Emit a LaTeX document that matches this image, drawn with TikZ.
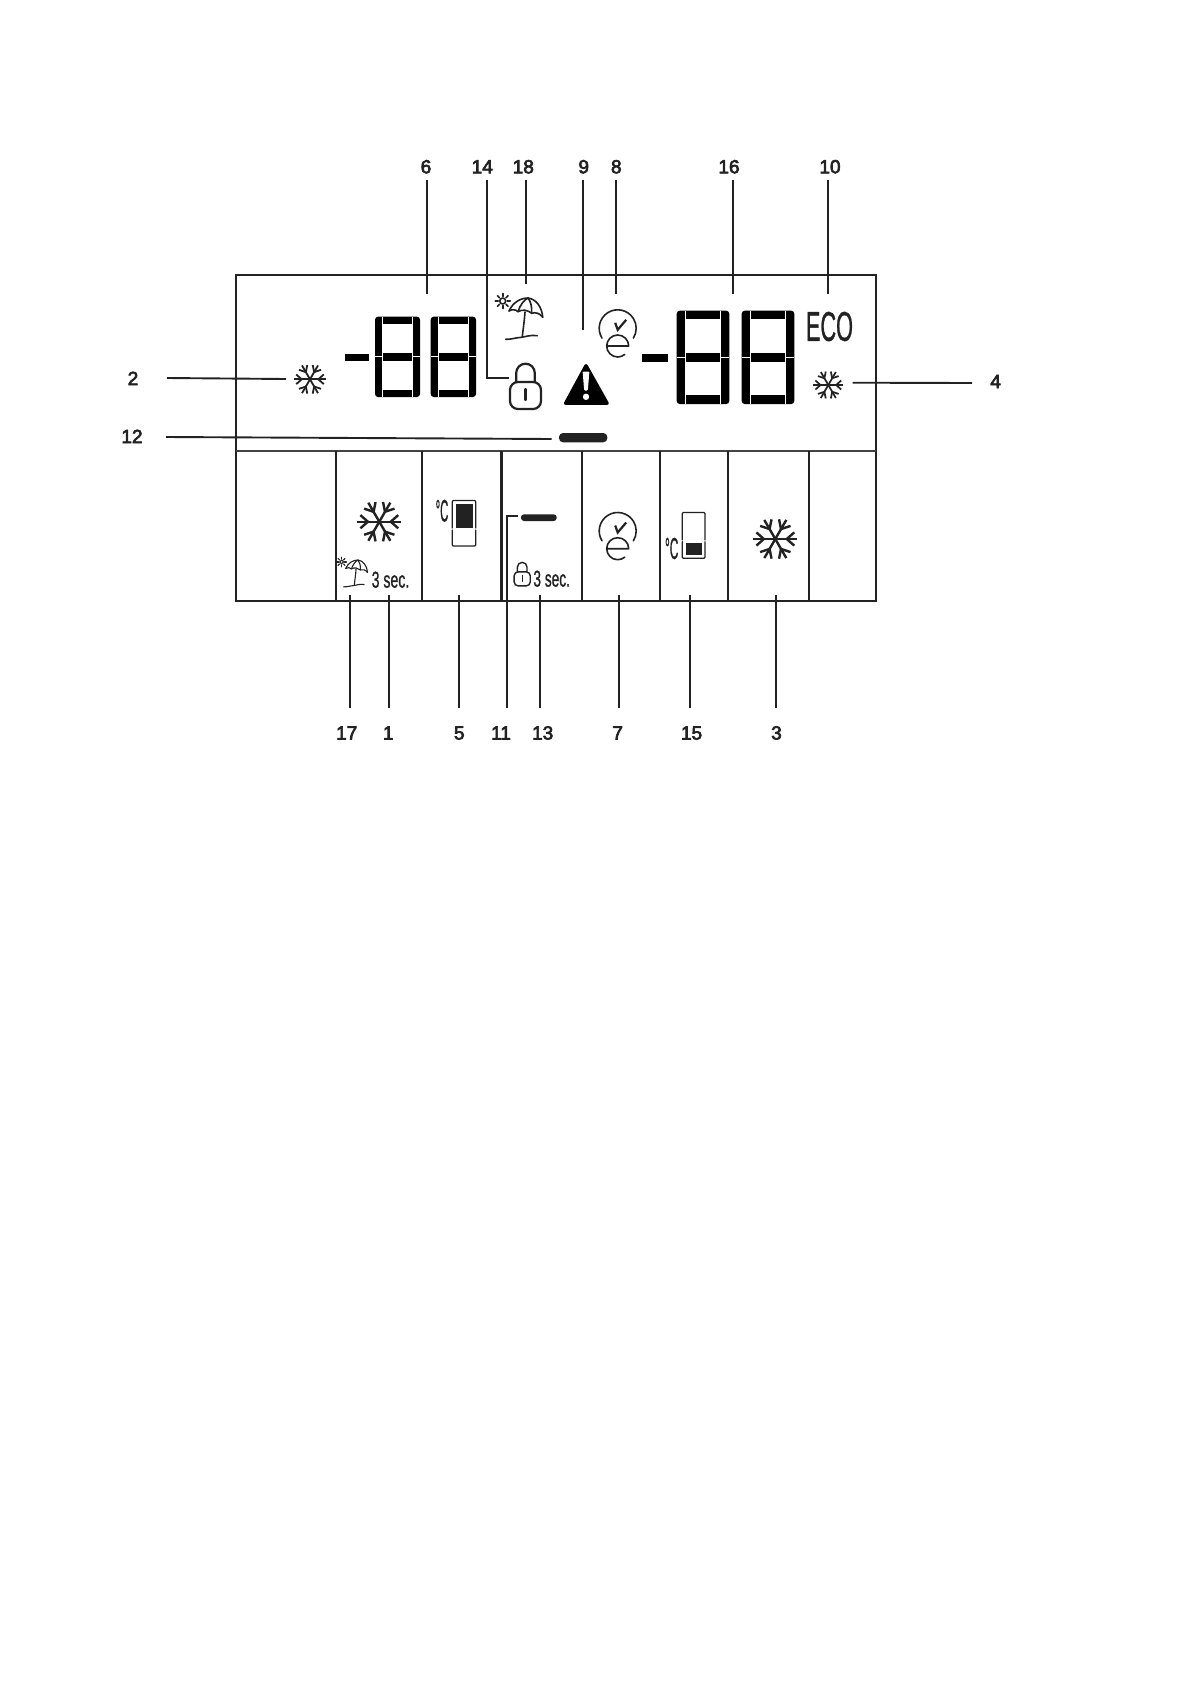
\documentclass[tikz,border=0pt]{standalone}
\usepackage{fontspec}
\usepackage{graphicx}
\setmainfont{Liberation Sans}
\newfontfamily\lblfont[FakeBold=1.2]{Liberation Sans}
\newfontfamily\numfont[FakeBold=3.5]{Liberation Sans}
\definecolor{ink}{HTML}{222222}
\tikzset{
  frame/.style={draw=ink,line width=1.9pt},
  conn/.style={draw=ink,line width=1.9pt},
  icon/.style={draw=ink,line width=1.5pt,line cap=round,line join=round},
  lbl/.style={inner sep=0pt,text=ink,text height=14pt,text depth=0pt,font=\numfont\fontsize{19}{19}\selectfont},
  txt/.style={inner sep=0pt,text=ink,font=\lblfont},
}
% cx cy radius linewidth
\newcommand{\flake}[4]{%
  \begin{scope}[shift={(#1,#2)},scale=#3]
    \foreach \a in {0,60,...,300}{
      \begin{scope}[rotate=\a]
        \draw[draw=ink,line width=#4,line cap=butt] (0,0) -- (1,0);
        \draw[draw=ink,line width=#4,line cap=butt] (.86,-.30) -- (.52,0) -- (.86,.30);
      \end{scope}
    }
  \end{scope}}
% x y w h t
\newcommand{\lcdigit}[5]{%
  \pgfmathsetmacro{\xa}{#1}\pgfmathsetmacro{\ya}{#2}
  \pgfmathsetmacro{\xb}{#1+#3}\pgfmathsetmacro{\yb}{#2+#4}
  \pgfmathsetmacro{\xi}{#1+#5}\pgfmathsetmacro{\xj}{#1+#3-#5}
  \pgfmathsetmacro{\ym}{#2+#4/2}
  \pgfmathsetmacro{\yi}{#2+#5}\pgfmathsetmacro{\yj}{#2+#4-#5}
  \pgfmathsetmacro{\yk}{#2+#4/2-#5/2}\pgfmathsetmacro{\yl}{#2+#4/2+#5/2}
  \fill[black,rounded corners=3pt] (\xa,\ya) rectangle (\xb,\yb);
  \fill[white] (\xi,\yi) rectangle (\xj,\yk);
  \fill[white] (\xi,\yl) rectangle (\xj,\yj);
  \draw[white,line width=1pt] (\xi,\ya) -- (\xi,\yb);
  \draw[white,line width=1pt] (\xj,\ya) -- (\xj,\yb);
  \draw[white,line width=1pt] (\xa,\ym) -- (\xi,\ym);
  \draw[white,line width=1pt] (\xj,\ym) -- (\xb,\ym);}
% x y scale lw
\newcommand{\umbrella}[4]{%
  \begin{scope}[shift={(#1,#2)},scale=#3,icon,line width=#4]
    \draw (-19,13) .. controls (-15,4) and (-7,0) .. (0,0) .. controls (8,1) and (14,9) .. (14.7,19.3);
    \draw (-19,13) .. controls (-16,11) and (-12,11.5) .. (-10,13.7) .. controls (-6,11) and (0,12) .. (3.7,15.3) .. controls (7,14) and (12,15) .. (14.7,19.3);
    \draw (-10,13.7) .. controls (-8,7) and (-4,2) .. (0,0) .. controls (3,4) and (4,9) .. (3.7,15.3);
    \draw (-3,14) .. controls (-3.5,22) and (-5,32) .. (-5.7,38.7);
    \draw (-22.3,41.3) .. controls (-16,41.5) and (-12,39.5) .. (-8,39.5) .. controls (-3,39) and (3,36.5) .. (9.3,37.7);
    \draw (-25.3,3) circle (3);
    \foreach \a in {0,45,...,315}{\draw (-25.3,3) ++(\a:4.5) -- ++(\a:3);}
  \end{scope}}
% x y scale r lw
\newcommand{\padlock}[5]{%
  \begin{scope}[shift={(#1,#2)},scale=#3,icon,line width=#5]
    \draw[rounded corners=#4pt] (-15.5,-8) rectangle (15.5,19);
    \draw (-9.3,-8) -- (-9.3,-17) arc[start angle=180,end angle=360,radius=9.3] -- (9.3,-8);
    \draw (0,-1) -- (0,10);
  \end{scope}}
% x y lw
\newcommand{\echeck}[3]{%
  \begin{scope}[shift={(#1,#2)},icon,line width=#3]
    \draw (0,0) ++(148:18.5) arc[start angle=148,end angle=392,radius=18.5];
    \draw (-11,17.7) -- (11,17.7) arc[start angle=0,end angle=-310,radius=11];
    \draw[line width=2.2pt,line cap=butt,line join=miter] (-2.5,-5.5) -- (0,1.5) -- (8.5,-8.5);
  \end{scope}}
\begin{document}
\begin{tikzpicture}[x=1pt,y=1pt,yscale=-1]
\useasboundingbox (0,0) rectangle (1191,1684);
\fill[white] (0,0) rectangle (1191,1684);

% panel
\draw[frame] (235.7,275) rectangle (875.7,600.7);
\draw[frame,draw=ink!85] (235.7,451) -- (875.7,451);
\foreach \x/\w in {335.7/2,421.7/1.9,501.7/2.8,582.3/2,659.7/2.2,728.3/1.9,809.3/2}{
  \draw[draw=ink,line width=\w pt] (\x,451) -- (\x,600.7);
}

% digits
\fill[black] (345,354) rectangle (368.7,361);
\lcdigit{375}{316.7}{45}{80.3}{7.5}
\lcdigit{430.7}{316.7}{45.3}{80.3}{7.5}
\fill[black] (641.7,353.5) rectangle (668.3,361.5);
\lcdigit{676.7}{310.7}{52.6}{93.3}{8.7}
\lcdigit{741.7}{310.7}{52.6}{93.3}{8.7}

% snowflakes
\flake{310}{379.3}{16}{1.8pt}
\flake{828.3}{385}{15}{1.7pt}
\flake{379.3}{521.7}{22}{2.4pt}
\flake{775.3}{539}{22}{2.4pt}

% icons
\umbrella{528}{298}{1}{1.6pt}
\umbrella{358}{560}{.65}{1.1pt}
\padlock{525.5}{390}{1}{8}{2.2pt}
\padlock{522.2}{576}{.52}{4}{1.4pt}
\echeck{617.7}{328.3}{1.6pt}
\echeck{617.7}{531}{1.6pt}

% warning
\filldraw[draw=black,fill=black,line join=round,line width=3.5pt] (586,365.8) -- (607,403.2) -- (565.7,403.2) -- cycle;
\fill[white,rounded corners=1pt] (582.6,371.5) -- (589.4,371.5) -- (587.8,390.5) -- (584.2,390.5) -- cycle;
\fill[white] (586,396.8) circle (3.2);

% bars
\fill[ink,rounded corners=4pt] (559,433) rectangle (607.3,442.3);
\fill[ink,rounded corners=3pt] (521,514.3) rectangle (556.7,521);

% texts
\node[txt] (eco) at (829.5,326.5) {\resizebox{47pt}{29pt}{ECO}};
\node[txt] (sa) at (390.5,579.7) {\resizebox{37.6pt}{16pt}{3 sec.}};
\node[txt] (sb) at (551.7,578.7) {\resizebox{36.6pt}{16pt}{3 sec.}};
\node[txt] (ca) at (442,510.8) {\resizebox{12.6pt}{21.7pt}{°C}};
\node[txt] (cb) at (671.7,548.5) {\resizebox{13.3pt}{21pt}{°C}};

% fridge icons
\begin{scope}[icon,line width=1.3pt]
  \draw[rounded corners=1pt] (452.3,528) -- (452.3,500.5) -- (475.7,500.5) -- (475.7,528);
  \draw[rounded corners=1pt] (452.3,530) -- (452.3,546) -- (475.7,546) -- (475.7,530);
  \draw[rounded corners=1pt] (682.3,540) -- (682.3,512.5) -- (705,512.5) -- (705,540);
  \draw[rounded corners=1pt] (682.3,541.7) -- (682.3,558.3) -- (705,558.3) -- (705,541.7);
\end{scope}
\fill[ink] (456,503.5) rectangle (472.7,527.5);
\fill[ink] (685.7,542.7) rectangle (702.3,555);

% number labels
\foreach \n/\x in {6/426,14/482.3,18/523.3,9/583.7,8/616.3,16/729,10/830}{
  \node[lbl] (n\n) at (\x,166.3) {\n};
}
\foreach \n/\x in {17/346.7,1/388.3,5/459.3,11/501,13/542.7,7/617.6,15/691.6,3/776.5}{
  \node[lbl] (n\n) at (\x,732.5) {\n};
}
\node[lbl] (n2) at (133,378) {2};
\node[lbl] (n4) at (995.6,381) {4};
\node[lbl] (n12) at (132,436) {12};

% connector end points
\foreach \n/\x/\y in {6/427.3/294,18/526/283.5,9/582.7/330,8/615.7/294,16/732.7/294,10/828.3/294}{
  \coordinate (e\n) at (\x,\y);
  \draw[conn,shorten <=6.7pt] (n\n.south -| e\n) -- (e\n);
}
\foreach \n/\x/\y in {17/350/595,1/388.7/595,5/459.3/595,13/540/595,7/619.3/595,15/690/595,3/776/595}{
  \coordinate (e\n) at (\x,\y);
  \draw[conn,shorten <=17.5pt] (n\n.north -| e\n) -- (e\n);
}
\coordinate (e14a) at (486.7,378);
\coordinate (e14) at (509,378);
\draw[conn,shorten <=6.7pt] (n14.south -| e14a) -- (e14a) -- (e14);
\coordinate (e11a) at (507,515.7);
\coordinate (e11) at (518,515.7);
\draw[conn,shorten <=17.5pt] (n11.north -| e11a) -- (e11a) -- (e11);
\coordinate (e2) at (286,379);
\draw[conn] (167,378) coordinate (s2) -- (e2);
\coordinate (e4) at (852.7,382.7);
\draw[conn] (972,383) coordinate (s4) -- (e4);
\coordinate (e12) at (551.7,439);
\draw[conn] (166,437) coordinate (s12) -- (e12);
\end{tikzpicture}
\end{document}
